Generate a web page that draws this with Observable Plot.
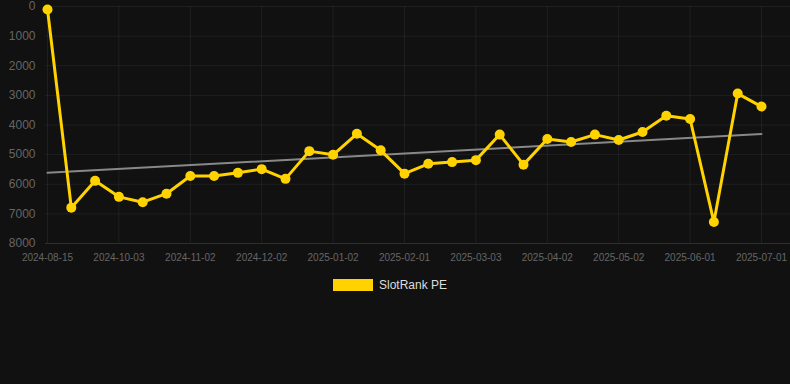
<!DOCTYPE html>
<html>
<head>
<meta charset="utf-8">
<script src="https://cdn.jsdelivr.net/npm/d3@7"></script>
<script src="https://cdn.jsdelivr.net/npm/@observablehq/plot@0.6"></script>
<style>
  html, body { margin: 0; padding: 0; background: #111111; }
  body { width: 790px; height: 384px; overflow: hidden; font-family: Arial, "Liberation Sans", sans-serif; }
  #chart svg { display: block; }
  .legend { display: flex; justify-content: center; align-items: center; margin-top: 8px; padding-right: 10px; color: #dddddd; font-size: 12px; }
  .legend .sw { width: 40px; height: 12px; background: #FFD200; margin-right: 6px; }
</style>
</head>
<body>
<div id="chart"></div>
<div class="legend"><div class="sw"></div><span>SlotRank PE</span></div>
<script>
const dates = [
  "2024-08-15","2024-09-13","2024-09-23","2024-10-03","2024-10-13","2024-10-23",
  "2024-11-02","2024-11-12","2024-11-22","2024-12-02","2024-12-12","2024-12-22",
  "2025-01-02","2025-01-12","2025-01-22","2025-02-01","2025-02-11","2025-02-21",
  "2025-03-03","2025-03-13","2025-03-23","2025-04-02","2025-04-12","2025-04-22",
  "2025-05-02","2025-05-12","2025-05-22","2025-06-01","2025-06-11","2025-06-21",
  "2025-07-01"
];
const ranks = [
  100, 6790, 5885, 6425, 6605, 6318,
  5723, 5723, 5615, 5490, 5818, 4882,
  5007, 4297, 4855, 5642, 5311, 5253,
  5186, 4324, 5338, 4473, 4574, 4324,
  4507, 4236, 3689, 3797, 7277, 2939,
  3378
];
const yTicks = [0, 1000, 2000, 3000, 4000, 5000, 6000, 7000, 8000];
const xTickIdx = [0, 3, 6, 9, 12, 15, 18, 21, 24, 27, 30];

const data = dates.map((d, i) => ({i, date: d, rank: ranks[i]}));

const chart = Plot.plot({
  width: 790,
  height: 270,
  marginLeft: 45,
  marginRight: 0,
  marginTop: 6,
  marginBottom: 27,
  style: {background: "#111111", color: "#666666", fontFamily: "Arial, 'Liberation Sans', sans-serif"},
  x: {type: "linear", domain: [0, dates.length - 1], range: [47, 761], label: null},
  y: {domain: [0, 8000], reverse: true, label: null},
  marks: [
    Plot.gridY(yTicks, {stroke: "#ffffff", strokeOpacity: 0.06}),
    Plot.gridX(xTickIdx, {stroke: "#ffffff", strokeOpacity: 0.06}),
    Plot.ruleY([8000], {stroke: "#2e2e2e"}),
    Plot.axisY(yTicks, {tickSize: 0, tickPadding: 10, fontSize: 12, fill: "#666666", label: null, tickFormat: d3.format("d")}),
    Plot.axisX(xTickIdx, {tickSize: 0, tickPadding: 10, fontSize: 10, fill: "#666666", label: null, tickFormat: i => dates[i]}),
    Plot.linearRegressionY(data, {x: "i", y: "rank", ci: 0, stroke: "#888888", strokeWidth: 2}),
    Plot.line(data, {x: "i", y: "rank", stroke: "#FFD200", strokeWidth: 3}),
    Plot.dot(data, {x: "i", y: "rank", r: 5, fill: "#FFD200", stroke: "none"})
  ]
});
document.getElementById("chart").appendChild(chart);
</script>
</body>
</html>
